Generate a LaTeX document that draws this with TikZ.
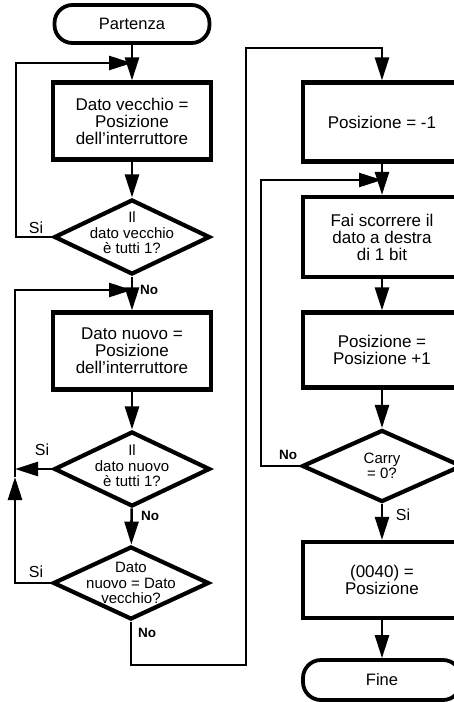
\documentclass[tikz,border=0pt]{standalone}
\usepackage{fontspec}
\setmainfont{Liberation Sans}
\usetikzlibrary{shapes.geometric, arrows.meta, positioning, calc}

\begin{document}
\begin{tikzpicture}[
    x=1pt, y=-1pt,
    term/.style={rectangle, rounded corners=18pt, draw, line width=3.8pt, minimum width=155pt, minimum height=38pt, font=\fontsize{16.5}{17}\selectfont},
    block/.style={rectangle, draw, line width=4.2pt, minimum width=158pt, minimum height=77pt, align=center, font=\fontsize{17}{17}\selectfont},
    test/.style={diamond, draw, line width=4.2pt, minimum width=156pt, minimum height=75pt, inner sep=0pt},
    testtxt/.style={align=center, inner sep=0pt, font=\fontsize{15}{15.5}\selectfont},
    si/.style={inner sep=0pt, font=\fontsize{16}{16}\selectfont},
    no/.style={inner sep=0pt, font=\bfseries\fontsize{13.5}{14}\selectfont},
    conn/.style={-{Triangle[length=23pt,width=14pt]}, line width=2.6pt}
]

% Page frame (right column is cut by the page edge)
\useasboundingbox (0,0) rectangle (454,702);
\clip (0,0) rectangle (454,702);
\fill[white] (0,0) rectangle (454,702);

% ==================== LEFT COLUMN ====================

\node[term] (start) at (132,24) {Partenza};
\node[block] (oldpos) at (132,121) {Dato vecchio =\\Posizione\\dell'interruttore};
\node[test] (oldall) at (132,237) {};
\node[testtxt] (oldallt) at ([yshift=4pt]oldall) {Il\\dato vecchio\\è tutti 1?};

\node[block] (newpos) at (132,351) {Dato nuovo =\\Posizione\\dell'interruttore};
\node[test] (newall) at (132,469) {};
\node[testtxt] (newallt) at ([yshift=3pt]newall) {Il\\dato nuovo\\è tutti 1?};

\node[test, minimum height=73pt] (same) at (131,583) {};
\node[testtxt] (samet) at (same) {Dato\\nuovo = Dato\\vecchio?};

% ==================== RIGHT COLUMN ====================

\node[block, minimum height=79pt] (posinit) at (382,122) {Posizione = -1};
\node[block, minimum height=80pt] (shift) at (382,237) {Fai scorrere il\\dato a destra\\di 1 bit};
\node[block, minimum height=75pt] (posinc) at (382,350) {Posizione =\\Posizione +1};
\node[test, minimum width=160pt, minimum height=72pt] (carry) at (382,466) {};
\node[testtxt] (carryt) at (carry) {Carry\\= 0?};
\node[block, minimum height=76pt] (store) at (382,580) {(0040) =\\Posizione};
\node[term, minimum width=158pt, minimum height=40pt] (fine) at (382,680) {Fine};

% Junctions and bends
\coordinate (j1) at (132,63);
\coordinate (j2) at (132,290);
\coordinate (j3) at (382,180);
\coordinate (up) at (15,477);
\coordinate (w1) at (246,665);
\coordinate (w2) at (382,48);

% Main flow, left
\draw[conn] (start) -- (oldpos);
\draw[conn] (oldpos) -- (oldall);
\draw[conn] (oldall) -- (newpos);
\draw[conn] (newpos) -- (newall);
\draw[conn] (newall) -- (same);

% Loops back
\draw[conn] (oldall.west) -- ++(-36,0) |- (j1);
\draw[conn] (newall.west) -- (newall.west -| up);
\draw[conn] (same.west) -| (up);
\draw[conn] (up) |- (j2);

% Over to the right column
\draw[conn] (same.south) |- (w1) |- (w2) -- (posinit);

% Main flow, right
\draw[conn] (posinit) -- (shift);
\draw[conn] (shift) -- (posinc);
\draw[conn] (posinc) -- (carry);
\draw[conn] (carry.west) -- ++(-39,0) |- (j3);
\draw[conn] (carry) -- (store);
\draw[conn] (store) -- (fine);

% Branch labels
\node[si] (si1) at (36,228) {Si};
\node[no] (no1) at (149,290) {No};
\node[si] (si2) at (42,450) {Si};
\node[no] (no2) at (150,516) {No};
\node[si] (si3) at (36,572) {Si};
\node[no] (no3) at (147,633) {No};
\node[no] (no4) at (288,455) {No};
\node[si] (si4) at (403,515) {Si};

\end{tikzpicture}
\end{document}
